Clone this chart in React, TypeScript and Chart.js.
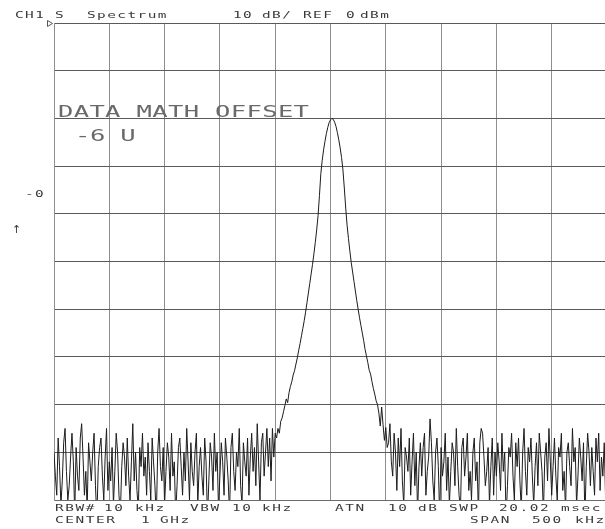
import React, { useEffect, useRef } from "react";
import { Chart, registerables } from "chart.js";

Chart.register(...registerables);

// Frequency axis: centre 1 GHz, span 500 kHz, 401 trace points
const startKHz = -250;
const stepKHz = 1.25;
const xTickStepKHz = 50;

// Amplitude axis: REF 0 dBm, 10 dB/div
const refDb = 0;
const bottomDb = -100;
const dbPerDiv = 10;

// Trace readings (dBm), left noise floor, carrier, right noise floor
const leftNoise = [
  -90, -95, -99, -87, -93, -101, -96, -88, -85, -94, -100, -97, -91, -86, -92, -103, -89, -95, -98, -87,
  -84, -91, -99, -94, -102, -88, -92, -96, -90, -86, -97, -104, -93, -89, -87, -95, -100, -91, -85, -98,
  -92, -96, -89, -101, -94, -86, -90, -99, -103, -93, -88, -91, -97, -87, -95, -100, -92, -84, -96, -90,
  -98, -102, -89, -93, -86, -95, -91, -99, -88, -94, -100, -87, -92, -97, -104, -90, -85, -93, -96, -89,
  -101, -94, -88, -91, -98, -86, -95, -92, -103, -97, -89, -87, -93, -99, -90, -96, -85, -92, -100, -88,
  -94, -97, -90, -86, -101, -93, -89, -95, -99, -87, -92, -104, -96, -88, -91, -98, -86, -94, -90, -102,
  -95, -88, -92, -99, -87, -91, -96, -103, -89, -86, -94, -98, -90, -93, -85, -97, -101, -88, -92, -95,
  -87, -99, -91, -86, -94, -89, -97, -84, -92, -100, -88, -86, -95, -90, -85, -93, -87, -96, -85, -91,
  -86,
];

const carrier = [
  -87, -85, -86, -83.5, -82.8, -81.5, -80.2, -78.8, -79.6, -77.5,
  -76.2, -75.2, -73.8, -72.9, -71.5, -70.2, -68.6, -67.2, -65.6, -64.0,
  -62.4, -60.6, -58.6, -56.6, -54.6, -52.6, -50.6, -48.4, -46.0, -43.4,
  -40.4, -36.2, -31.6, -28.8, -26.6, -24.8, -23.2, -21.9, -20.9, -20.3,
  -20.0,
  -20.2, -20.8, -21.7, -23.0, -24.5, -26.2, -28.2, -30.8, -34.6, -38.8,
  -42.4, -45.2, -47.8, -50.2, -52.2, -54.2, -56.2, -58.2, -60.0, -61.8,
  -63.4, -65.0, -66.6, -68.4, -69.8, -71.2, -72.8, -73.6, -75.2, -76.6,
  -77.8, -79.2, -80.0, -81.8, -84.5, -80.5, -84.2, -87.5, -84.8, -89,
];

const rightNoise = [
  -88, -84, -92, -95, -86, -90, -98, -87, -93, -85, -96, -101, -89, -91, -94, -87, -99, -92, -86, -97,
  -90, -103, -93, -88, -95, -89, -86, -99, -94, -91, -83, -88, -96, -100, -90, -87, -93, -104, -89, -95,
  -92, -86, -98, -91, -101, -94, -88, -90, -97, -85, -93, -99, -102, -89, -87, -95, -91, -86, -98, -94,
  -100, -90, -87, -96, -92, -103, -88, -85, -86, -91, -97, -94, -89, -101, -93, -87, -99, -90, -95, -88,
  -92, -98, -86, -94, -90, -104, -97, -89, -91, -86, -95, -100, -88, -93, -87, -96, -102, -90, -85, -94,
  -99, -89, -92, -87, -95, -101, -93, -88, -97, -86, -90, -94, -103, -91, -88, -96, -85, -92, -99, -93,
  -87, -95, -100, -89, -91, -86, -98, -94, -102, -90, -88, -93, -97, -85, -92, -89, -101, -95, -87, -91,
  -96, -88, -104, -93, -86, -90, -97, -89, -94, -99, -87, -92, -86, -98, -91, -95, -88, -100, -90,
];

// Annotation texts
const headerTexts = ["CH1", "S", "Spectrum", "10", "dB/", "REF", "0", "dBm"];
const footer1Texts = ["RBW#", "10", "kHz", "VBW", "10", "kHz", "ATN", "10", "dB", "SWP", "20.02", "msec"];
const footer2Texts = ["CENTER", "1", "GHz", "SPAN", "500", "kHz"];
const mathLabel = "DATA MATH OFFSET";
const mathValue = "-6 U";
const refLabel = "-0";
const arrowLabel = "↑";

// Layout (positions only)
const headerX = [15, 55, 87, 233, 262, 303, 346, 360];
const footer1X = [55, 104, 135, 190, 232, 262, 335, 388, 418, 449, 499, 561];
const footer2X = [55, 141, 160, 470, 532, 575];

const FONT = '"DejaVu Sans Mono", "Liberation Mono", monospace';

function drawText(
  ctx: CanvasRenderingContext2D,
  text: string,
  x: number,
  baseline: number,
  size: number,
  sx: number,
  ls: number,
  color: string,
  family: string = FONT
) {
  ctx.save();
  ctx.translate(x, baseline);
  ctx.scale(sx, 1);
  ctx.font = `${size}px ${family}`;
  (ctx as any).letterSpacing = `${ls}px`;
  ctx.fillStyle = color;
  ctx.textBaseline = "alphabetic";
  ctx.textAlign = "left";
  ctx.fillText(text, 0, 0);
  ctx.restore();
}

const overlayPlugin = {
  id: "overlay",
  afterDraw(chart: any) {
    const ctx: CanvasRenderingContext2D = chart.ctx;
    const small = "#3a3a3a";
    const large = "#6a6a6a";
    headerTexts.forEach((t, i) => drawText(ctx, t, headerX[i], 17.5, 9, 1.6, 0.9, small));
    footer1Texts.forEach((t, i) => drawText(ctx, t, footer1X[i], 510.5, 9, 1.6, 1.0, small));
    footer2Texts.forEach((t, i) => drawText(ctx, t, footer2X[i], 522.5, 9, 1.6, 1.0, small));
    drawText(ctx, mathLabel, 58, 117, 16.5, 1.55, 0.2, large);
    drawText(ctx, mathValue, 75, 141, 16.5, 1.55, -0.2, large);
    drawText(ctx, refLabel, 25, 197, 9, 1.6, 0.9, small);
    drawText(ctx, arrowLabel, 12, 233, 11, 1.0, 0, small, '"DejaVu Sans", sans-serif');
    // reference level marker
    ctx.save();
    ctx.strokeStyle = "#555";
    ctx.lineWidth = 1;
    ctx.beginPath();
    ctx.moveTo(47.5, 20.5);
    ctx.lineTo(47.5, 26.5);
    ctx.lineTo(52.5, 23.5);
    ctx.closePath();
    ctx.stroke();
    ctx.restore();
  },
};

export default function App() {
  const ref = useRef<HTMLCanvasElement | null>(null);

  useEffect(() => {
    if (!ref.current) return;
    const trace = [...leftNoise, ...carrier, ...rightNoise];
    const points = trace.map((y, i) => ({ x: startKHz + i * stepKHz, y }));
    const chart = new Chart(ref.current, {
      type: "line",
      data: {
        datasets: [
          {
            data: points,
            borderColor: "#1c1c1c",
            borderWidth: 1,
            pointRadius: 0,
            tension: 0,
            fill: false,
          },
        ],
      },
      options: {
        animation: false,
        responsive: false,
        maintainAspectRatio: false,
        devicePixelRatio: 1,
        events: [],
        layout: { padding: { left: 54, top: 23, right: 13, bottom: 29 } },
        plugins: {
          legend: { display: false },
          tooltip: { enabled: false },
          title: { display: false },
        },
        scales: {
          x: {
            type: "linear",
            min: startKHz,
            max: -startKHz,
            ticks: { display: false, stepSize: xTickStepKHz },
            grid: { color: "#8e8e8e", lineWidth: 1, drawTicks: false },
            border: { display: true, color: "#6a6a6a", width: 1 },
          },
          y: {
            type: "linear",
            min: bottomDb,
            max: refDb,
            ticks: { display: false, stepSize: dbPerDiv },
            grid: { color: "#5a5a5a", lineWidth: 1, drawTicks: false },
            border: { display: true, color: "#8e8e8e", width: 1 },
          },
        },
      },
      plugins: [overlayPlugin],
    });
    return () => chart.destroy();
  }, []);

  return (
    <div
      style={{
        position: "fixed",
        left: 0,
        top: 0,
        width: 605,
        height: 529,
        overflow: "hidden",
        background: "#fff",
      }}
    >
      <canvas ref={ref} width={620} height={529} style={{ display: "block" }} />
    </div>
  );
}
